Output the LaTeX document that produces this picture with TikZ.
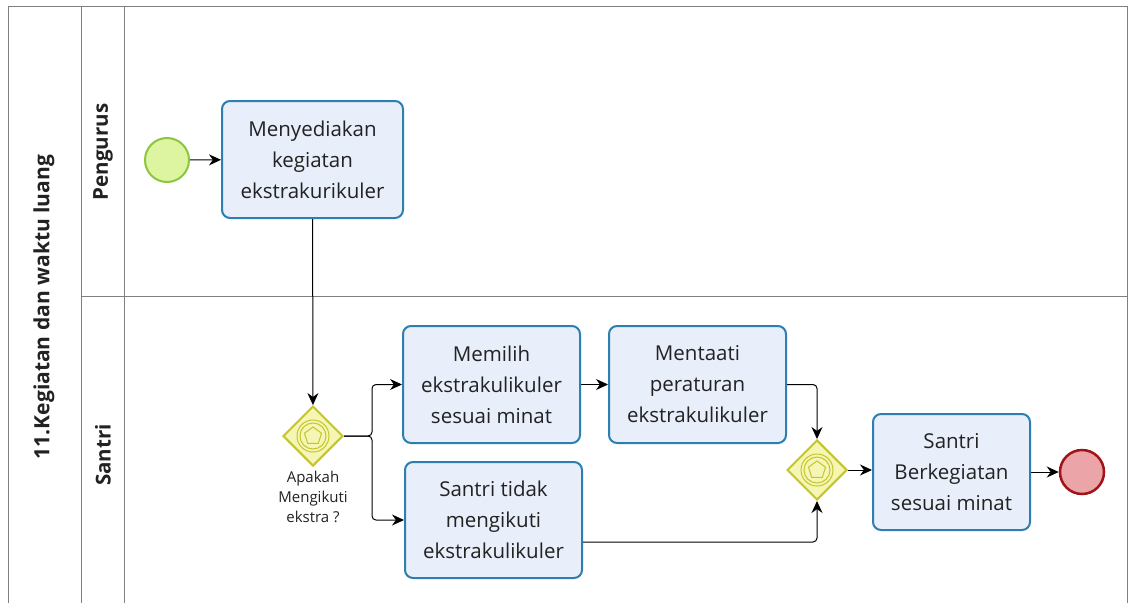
\documentclass[tikz,border=0pt]{standalone}
\usepackage{fontspec}
\setmainfont{Open Sans}
\usetikzlibrary{shapes.geometric,arrows.meta,positioning}
\definecolor{taskfill}{HTML}{E8EEFA}
\definecolor{taskline}{HTML}{2E7FB0}
\definecolor{startfill}{HTML}{DDF5A0}
\definecolor{startline}{HTML}{8CC63F}
\definecolor{endfill}{HTML}{EBA5A8}
\definecolor{endline}{HTML}{A01418}
\definecolor{gwfill}{HTML}{F6F6B4}
\definecolor{gwline}{HTML}{C4C42C}
\definecolor{lanegray}{HTML}{808080}
\definecolor{txt}{HTML}{222222}
\tikzset{
  taskbox/.style={draw=taskline, line width=2pt, fill=taskfill, rounded corners=8pt,
    inner sep=0pt, align=center, text=txt, font=\fontsize{20.5}{31}\selectfont},
  gw/.style={diamond, draw=gwline, line width=2pt, fill=gwfill, minimum size=60pt, inner sep=0pt},
  flow/.style={draw=black, line width=1pt, -{Stealth[length=12pt,width=11pt]}, rounded corners=4pt},
  lane/.style={draw=lanegray, line width=1pt},
}
\begin{document}
\begin{tikzpicture}[x=1pt,y=-1pt]
\useasboundingbox (0,0) rectangle (1133,603);
\fill[white] (0,0) rectangle (1133,603);
% pool and lanes
\draw[lane] (8,603) -- (8,6) -- (1127,6) -- (1127,603);
\draw[lane] (81,6) -- (81,603);
\draw[lane] (124,6) -- (124,603);
\draw[lane] (81,296) -- (1127,296);
\node (pool) [rotate=90, font=\fontsize{21}{24}\selectfont\bfseries, text=txt] at (44,307) {11.Kegiatan dan waktu luang};
\node (l1) [rotate=90, font=\fontsize{20.5}{24}\selectfont\bfseries, text=txt] at (103,152) {Pengurus};
\node (l2) [rotate=90, font=\fontsize{20.5}{24}\selectfont\bfseries, text=txt] at (103,455) {Santri};
% events
\node (start) [circle, draw=startline, line width=2pt, fill=startfill, minimum size=44pt, inner sep=0pt] at (167,160) {};
\node (end) [circle, draw=endline, line width=2.5pt, fill=endfill, minimum size=44pt, inner sep=0pt] at (1082,472) {};
% tasks
\node (t1) [taskbox, minimum width=181pt, minimum height=117pt] at (312.5,159.5) {Menyediakan\\kegiatan\\ekstrakurikuler};
\node (t2) [taskbox, minimum width=177pt, minimum height=117pt] at (491.5,384.5) {Memilih\\ekstrakulikuler\\sesuai minat};
\node (t3) [taskbox, minimum width=177pt, minimum height=117pt] at (697.5,384.5) {Mentaati\\peraturan\\ekstrakulikuler};
\node (t4) [taskbox, minimum width=177pt, minimum height=116pt] at (493.5,520) {Santri tidak\\mengikuti\\ekstrakulikuler};
\node (t5) [taskbox, minimum width=157pt, minimum height=116pt] at (951.5,472) {Santri\\Berkegiatan\\sesuai minat};
% gateways
\foreach \n/\x/\y in {g1/313/436, g2/817/470}{
  \node (\n) [gw] at (\x,\y) {};
  \draw[gwline, line width=1pt] (\n.center) circle (16pt);
  \draw[gwline, line width=1pt] (\n.center) circle (13pt);
  \node[regular polygon, regular polygon sides=5, draw=gwline, line width=1pt, minimum size=18pt, inner sep=0pt] at (\n.center) {};
}
\node (g1lab) [below=1pt of g1, align=center, text=txt, font=\fontsize{15}{20}\selectfont] {Apakah\\Mengikuti\\ekstra ?};
% flows
\draw[flow] (start) -- (t1);
\draw[flow] (t1) -- (g1);
\coordinate (s1) at (372,436);
\draw[flow] (g1.east) -- (s1) |- (t2.west);
\draw[flow] (g1.east) -- (s1) |- (t4.west);
\draw[flow] (t2) -- (t3);
\draw[flow] (t3.east) -| (g2.north);
\draw[flow] ([yshift=-22pt]t4.east) -| (g2.south);
\draw[flow] (g2) -- (t5.west |- g2);
\draw[flow] (t5) -- (end);
\end{tikzpicture}
\end{document}
